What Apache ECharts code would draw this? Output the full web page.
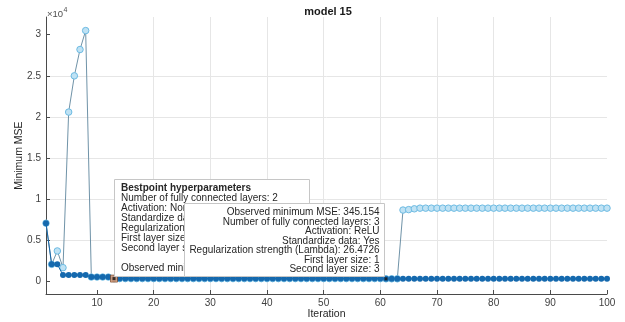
<!DOCTYPE html>
<html>
<head>
<meta charset="utf-8">
<script src="https://cdn.jsdelivr.net/npm/echarts@6/dist/echarts.min.js"></script>
<style>
  html, body { margin: 0; padding: 0; background: #fff; }
  #chart { width: 625px; height: 322px; }
</style>
</head>
<body>
<div id="chart"></div>
<script>
// Iteration numbers 1..100
const iterations = [];
for (let i = 1; i <= 100; i++) iterations.push(i);

// Minimum observed MSE per iteration
const observedMSE = [
  7100, 2100, 2100, 800, 800, 800, 800, 800, 550, 550, 550, 550,
  372, 372, 372, 372, 372, 372, 372, 372, 372, 372, 372, 372,
  372, 372, 372, 372, 372, 372, 372, 372, 372, 372, 372, 372,
  372, 372, 372, 372, 372, 372, 372, 372, 372, 372, 372, 372,
  372, 372, 372, 372, 372, 372, 372, 372, 372, 372, 372, 372,
  345.154, 345.154, 345.154, 345.154, 345.154, 345.154, 345.154, 345.154, 345.154, 345.154, 345.154, 345.154,
  345.154, 345.154, 345.154, 345.154, 345.154, 345.154, 345.154, 345.154, 345.154, 345.154, 345.154, 345.154,
  345.154, 345.154, 345.154, 345.154, 345.154, 345.154, 345.154, 345.154, 345.154, 345.154, 345.154, 345.154,
  345.154, 345.154, 345.154, 345.154
];

// Estimated minimum MSE per iteration
const estimatedMSE = [
  7100, 2100, 3730, 1700, 20600, 25000, 28200, 30500, 560, 560, 560, 560,
  372, 372, 372, 372, 372, 372, 372, 372, 372, 372, 372, 372,
  372, 372, 372, 372, 372, 372, 372, 372, 372, 372, 372, 372,
  372, 372, 372, 372, 372, 372, 372, 372, 372, 372, 372, 372,
  372, 372, 372, 372, 372, 372, 372, 372, 372, 372, 372, 372,
  345.154, 345.154, 345.154, 8700, 8750, 8850, 8930, 8930, 8930, 8930, 8930, 8930,
  8930, 8930, 8930, 8930, 8930, 8930, 8930, 8930, 8930, 8930, 8930, 8930,
  8930, 8930, 8930, 8930, 8930, 8930, 8930, 8930, 8930, 8930, 8930, 8930,
  8930, 8930, 8930, 8930
];

// Axis ticks
const xTicks = [10, 20, 30, 40, 50, 60, 70, 80, 90, 100];
const yTicks = [0, 5000, 10000, 15000, 20000, 25000, 30000];

// Best point and data-tip iterations
const bestIteration = 13;
const tipIteration = 61;

const bestLines = [
  'Number of fully connected layers: 2',
  'Activation: None',
  'Standardize data',
  'Regularization strength',
  'First layer size',
  'Second layer size',
  '',
  'Observed minimum MSE'
];
const tipLines = [
  'Observed minimum MSE: ' + observedMSE[tipIteration - 1],
  'Number of fully connected layers: 3',
  'Activation: ReLU',
  'Standardize data: Yes',
  'Regularization strength (Lambda): 26.4726',
  'First layer size: 1',
  'Second layer size: 3'
];

const FONT = "'Liberation Sans', Arial, Helvetica, sans-serif";
const pairs = vals => vals.map((v, i) => [iterations[i], v]);

const graphics = [];
// chart title and y exponent
graphics.push({ type: 'text', x: 328, y: 12, z: 100,
  style: { text: 'model 15', font: 'bold 11px ' + FONT, fill: '#1a1a1a', align: 'center', verticalAlign: 'middle' } });
graphics.push({ type: 'text', x: 47, y: 14, z: 100,
  style: { text: '\u00d710', font: '9.5px ' + FONT, fill: '#4d4d4d', align: 'left', verticalAlign: 'middle' } });
graphics.push({ type: 'text', x: 63.5, y: 10, z: 100,
  style: { text: '4', font: '7px ' + FONT, fill: '#4d4d4d', align: 'left', verticalAlign: 'middle' } });

// best point box
graphics.push({ type: 'rect', z: 100, shape: { x: 114.5, y: 179.5, width: 195, height: 97 },
  style: { fill: '#ffffff', stroke: '#c6c6c6', lineWidth: 1 } });
graphics.push({ type: 'text', x: 121, y: 188, z: 101,
  style: { text: 'Bestpoint hyperparameters', font: 'bold 10px ' + FONT, fill: '#262626', align: 'left', verticalAlign: 'middle' } });
bestLines.forEach((t, k) => {
  graphics.push({ type: 'text', x: 121, y: 198 + k * 10, z: 101,
    style: { text: t, font: '10px ' + FONT, fill: '#262626', align: 'left', verticalAlign: 'middle' } });
});

// data tip box
graphics.push({ type: 'rect', z: 102, shape: { x: 184.5, y: 203.5, width: 200, height: 73 },
  style: { fill: '#ffffff', stroke: '#c6c6c6', lineWidth: 1 } });
tipLines.forEach((t, k) => {
  graphics.push({ type: 'text', x: 379.5, y: 212.7 + k * 9.45, z: 103,
    style: { text: t, font: '10px ' + FONT, fill: '#262626', align: 'right', verticalAlign: 'middle' } });
});

const chart = echarts.init(document.getElementById('chart'), null, { renderer: 'canvas' });
chart.setOption({
  animation: false,
  backgroundColor: '#ffffff',
  grid: { left: 46, right: 18, top: 17, bottom: 28, containLabel: false, outerBoundsMode: 'none' },
  xAxis: {
    type: 'value', min: 1, max: 100, splitNumber: 10,
    name: 'Iteration', nameLocation: 'middle', nameGap: 15, nameMoveOverlap: false,
    nameTextStyle: { color: '#262626', fontSize: 10.5, fontFamily: FONT },
    axisLine: { show: true, onZero: false, lineStyle: { color: '#4a4a4a', width: 1 } },
    axisTick: { show: true, inside: true, length: 4, customValues: xTicks, lineStyle: { color: '#4a4a4a' } },
    axisLabel: { customValues: xTicks, color: '#404040', fontSize: 10, fontFamily: FONT, margin: 4 },
    splitLine: { show: true, showMinLine: false, showMaxLine: false, lineStyle: { color: '#e6e6e6', width: 1 } }
  },
  yAxis: {
    type: 'value', min: -1500, max: 32150, splitNumber: 7,
    name: 'Minimum MSE', nameLocation: 'middle', nameGap: 21, nameMoveOverlap: false,
    nameTextStyle: { color: '#262626', fontSize: 10.5, fontFamily: FONT },
    axisLine: { show: true, onZero: false, lineStyle: { color: '#4a4a4a', width: 1 } },
    axisTick: { show: true, inside: true, length: 4, customValues: yTicks, lineStyle: { color: '#4a4a4a' } },
    axisLabel: { customValues: yTicks, formatter: v => String(v / 10000), color: '#404040', fontSize: 10, fontFamily: FONT, margin: 5 },
    splitLine: { show: true, showMinLine: false, showMaxLine: false, lineStyle: { color: '#e6e6e6', width: 1 } }
  },
  series: [
    {
      name: 'Estimated minimum MSE', type: 'line', data: pairs(estimatedMSE),
      symbol: 'circle', symbolSize: 6.5, z: 2,
      lineStyle: { color: '#7093a8', width: 1 },
      itemStyle: { color: '#bfe2f4', borderColor: '#6dbbe3', borderWidth: 1 }
    },
    {
      name: 'Minimum observed MSE', type: 'line', data: pairs(observedMSE),
      symbol: 'circle', symbolSize: 6, z: 3,
      lineStyle: { color: '#1668aa', width: 1 },
      itemStyle: { color: '#1569ae', borderColor: '#1569ae', borderWidth: 0 }
    },
    {
      name: 'Best point', type: 'scatter', z: 5,
      data: [[bestIteration, observedMSE[bestIteration - 1]]],
      symbol: 'rect', symbolSize: 7,
      itemStyle: { color: '#eea173', borderColor: '#6b3a1c', borderWidth: 0.8 }
    },
    {
      name: 'Marker dots', type: 'scatter', z: 6,
      data: [[bestIteration, observedMSE[bestIteration - 1]], [tipIteration, observedMSE[tipIteration - 1]]],
      symbol: 'rect', symbolSize: 3,
      itemStyle: { color: '#111111' }
    }
  ],
  graphic: graphics
});
</script>
</body>
</html>
